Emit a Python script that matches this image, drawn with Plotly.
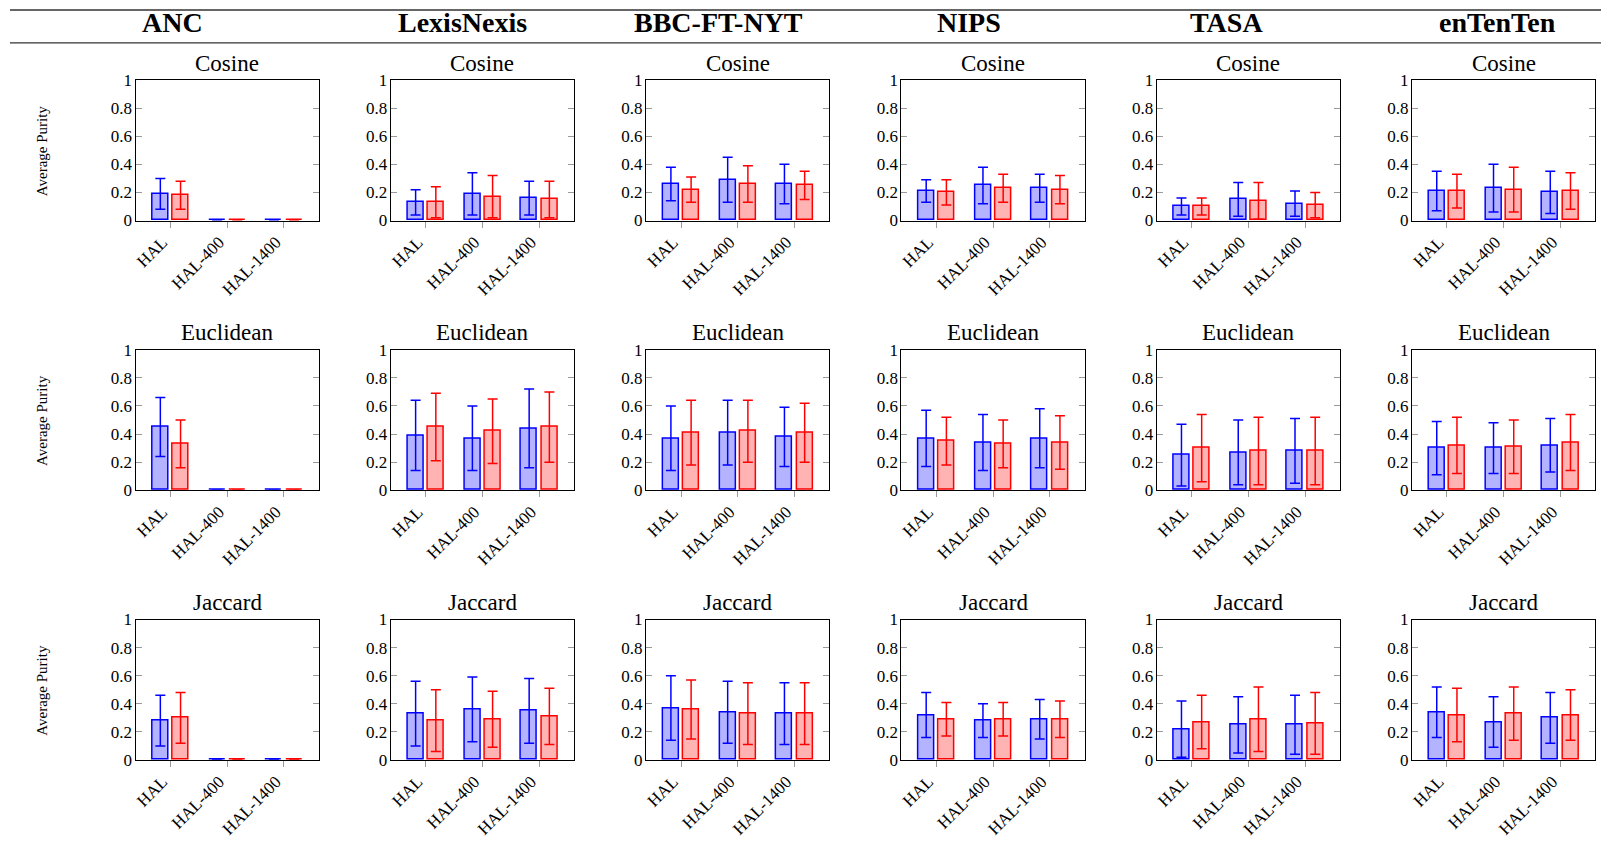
import plotly.graph_objects as go

# ---- categories -------------------------------------------------------
datasets = ["ANC", "LexisNexis", "BBC-FT-NYT", "NIPS", "TASA", "enTenTen"]
measures = ["Cosine", "Euclidean", "Jaccard"]
models = ["HAL", "HAL-400", "HAL-1400"]

# ---- average purity (mean) and spread, one row per dataset --------------
cos_blue = [[0.19, 0.0, 0.0], [0.13, 0.19, 0.16], [0.26, 0.29, 0.26],
            [0.21, 0.25, 0.23], [0.10, 0.15, 0.12], [0.21, 0.23, 0.20]]
cos_blue_sd = [[0.11, 0.0, 0.0], [0.09, 0.15, 0.12], [0.12, 0.16, 0.14],
               [0.08, 0.13, 0.10], [0.06, 0.12, 0.09], [0.14, 0.17, 0.15]]
cos_red = [[0.18, 0.0, 0.0], [0.13, 0.17, 0.15], [0.22, 0.26, 0.25],
           [0.20, 0.23, 0.22], [0.10, 0.14, 0.11], [0.21, 0.22, 0.21]]
cos_red_sd = [[0.10, 0.0, 0.0], [0.11, 0.15, 0.13], [0.09, 0.13, 0.10],
              [0.09, 0.10, 0.10], [0.06, 0.13, 0.09], [0.12, 0.16, 0.13]]

euc_blue = [[0.45, 0.0, 0.0], [0.39, 0.37, 0.44], [0.37, 0.41, 0.38],
            [0.37, 0.34, 0.37], [0.25, 0.27, 0.28], [0.30, 0.30, 0.32]]
euc_blue_sd = [[0.21, 0.0, 0.0], [0.25, 0.23, 0.28], [0.23, 0.23, 0.21],
               [0.20, 0.20, 0.21], [0.22, 0.23, 0.23], [0.19, 0.18, 0.19]]
euc_red = [[0.33, 0.0, 0.0], [0.45, 0.42, 0.45], [0.41, 0.42, 0.41],
           [0.35, 0.33, 0.34], [0.30, 0.28, 0.28], [0.32, 0.31, 0.34]]
euc_red_sd = [[0.17, 0.0, 0.0], [0.24, 0.23, 0.25], [0.23, 0.22, 0.21],
              [0.17, 0.17, 0.19], [0.24, 0.24, 0.24], [0.20, 0.19, 0.20]]

jac_blue = [[0.28, 0.0, 0.0], [0.33, 0.36, 0.35], [0.37, 0.34, 0.33],
            [0.32, 0.28, 0.29], [0.22, 0.25, 0.25], [0.34, 0.27, 0.30]]
jac_blue_sd = [[0.18, 0.0, 0.0], [0.23, 0.23, 0.23], [0.23, 0.22, 0.22],
               [0.16, 0.12, 0.14], [0.20, 0.20, 0.21], [0.18, 0.18, 0.18]]
jac_red = [[0.30, 0.0, 0.0], [0.28, 0.29, 0.31], [0.36, 0.33, 0.33],
           [0.29, 0.29, 0.29], [0.27, 0.29, 0.26], [0.32, 0.33, 0.32]]
jac_red_sd = [[0.18, 0.0, 0.0], [0.22, 0.20, 0.20], [0.21, 0.22, 0.22],
              [0.12, 0.12, 0.13], [0.19, 0.23, 0.22], [0.19, 0.19, 0.18]]

y_ticks = [0, 0.2, 0.4, 0.6, 0.8, 1]
y_tick_text = ["0", "0.2", "0.4", "0.6", "0.8", "1"]

rows = [
    (cos_blue, cos_blue_sd, cos_red, cos_red_sd),
    (euc_blue, euc_blue_sd, euc_red, euc_red_sd),
    (jac_blue, jac_blue_sd, jac_red, jac_red_sd),
]

# ---- page geometry (pixels) -------------------------------------------
W, H = 1601, 853
# the drawing area sits 8 px below the top of the page and is 837 px tall
PAGE_TOP, PAPER_H = 8.0, 837.0
PANEL_W, PANEL_H = 183.6, 141.0
COL_LEFT = [133.7 + 255.6 * c for c in range(6)]
ROW_TOP = [79.3, 350.0, 620.7]
HEADER_X = [171, 461, 717, 968, 1226, 1497]

SERIF = "Liberation Serif, Times New Roman, serif"
BLUE, BLUE_FILL = "#0000ff", "#b3b3ff"
RED, RED_FILL = "#ff0000", "#ffb3b3"
BAR_W = 0.28
SHIFT = 0.178


def px_x(x):
    return x / W


def px_y(y):
    return 1 - (y - PAGE_TOP) / PAPER_H


fig = go.Figure()
layout = {}
annotations = []

for r, (b_mean, b_sd, r_mean, r_sd) in enumerate(rows):
    for c, name in enumerate(datasets):
        idx = r * 6 + c + 1
        xa = "x" if idx == 1 else f"x{idx}"
        ya = "y" if idx == 1 else f"y{idx}"
        for mean, sd, line_c, fill_c, off in (
            (b_mean, b_sd, BLUE, BLUE_FILL, -SHIFT - BAR_W / 2),
            (r_mean, r_sd, RED, RED_FILL, SHIFT - BAR_W / 2),
        ):
            fig.add_trace(go.Bar(
                x=models, y=mean[c], xaxis=xa, yaxis=ya,
                width=BAR_W, offset=off,
                marker=dict(color=fill_c, line=dict(color=line_c, width=1.5)),
                error_y=dict(type="data", array=sd[c], visible=True,
                             color=line_c, thickness=1.5, width=5),
                showlegend=False, hoverinfo="skip",
            ))

        x0 = COL_LEFT[c]
        y0 = ROW_TOP[r]
        layout["xaxis" if idx == 1 else f"xaxis{idx}"] = dict(
            domain=[px_x(x0), px_x(x0 + PANEL_W)],
            anchor=ya, type="category", range=[-0.615, 2.615],
            showline=True, linecolor="#000000", linewidth=1.2, mirror=True,
            ticks="outside", ticklen=6, tickcolor="#9a9a9a", tickwidth=1.2,
            tickangle=-45, ticklabelshift=-8, ticklabelstandoff=-2,
            showgrid=False, zeroline=False,
            tickfont=dict(family=SERIF, size=17, color="#000000"),
        )
        layout["yaxis" if idx == 1 else f"yaxis{idx}"] = dict(
            domain=[px_y(y0 + PANEL_H), px_y(y0)],
            anchor=xa, range=[0, 1],
            tickvals=y_ticks, ticktext=y_tick_text,
            showline=True, linecolor="#000000", linewidth=1.2, mirror="allticks",
            ticks="inside", ticklen=6, tickcolor="#9a9a9a", tickwidth=1.2,
            ticklabelstandoff=-1,
            showgrid=False, zeroline=False,
            tickfont=dict(family=SERIF, size=17, color="#000000"),
        )
        # measure title above each panel
        annotations.append(dict(
            text=measures[r], xref="paper", yref="paper",
            x=px_x(x0 + PANEL_W / 2), y=px_y(y0 - 17),
            xanchor="center", yanchor="middle", showarrow=False,
            font=dict(family=SERIF, size=23, color="#000000"),
        ))
    # y-axis label for the row
    annotations.append(dict(
        text="Average Purity", xref="paper", yref="paper",
        x=px_x(40), y=px_y(ROW_TOP[r] + PANEL_H / 2),
        xanchor="center", yanchor="middle", textangle=-90, showarrow=False,
        font=dict(family=SERIF, size=15, color="#000000"),
    ))

# dataset headers
for c, name in enumerate(datasets):
    annotations.append(dict(
        text=f"<b>{name}</b>", xref="paper", yref="paper",
        x=px_x(HEADER_X[c]), y=px_y(22),
        xanchor="center", yanchor="middle", showarrow=False,
        font=dict(family=SERIF, size=28, color="#000000"),
    ))

# table rules above and below the header row
shapes = [
    dict(type="line", xref="paper", yref="paper",
         x0=px_x(8), x1=1, y0=px_y(yy), y1=px_y(yy),
         line=dict(color="#333333", width=1.3))
    for yy in (9, 42)
]

fig.update_layout(
    width=W, height=H,
    margin=dict(l=0, r=0, t=0, b=0),
    paper_bgcolor="white", plot_bgcolor="white",
    annotations=annotations, shapes=shapes,
    showlegend=False, bargap=0,
    **layout,
)

fig.write_html("out.html")
